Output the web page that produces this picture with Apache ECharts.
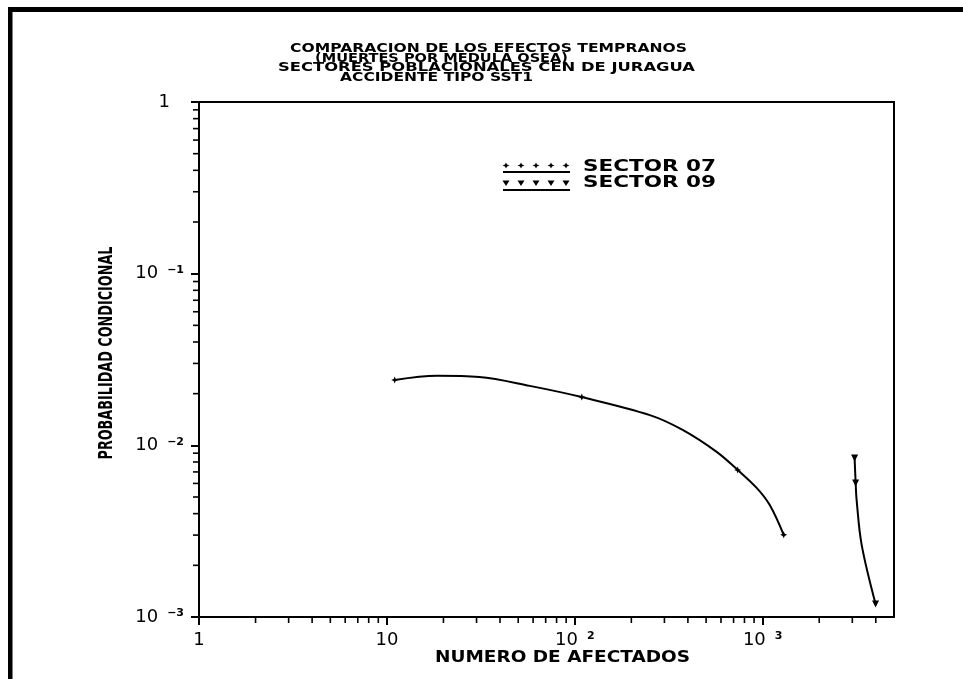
<!DOCTYPE html>
<html><head><meta charset="utf-8">
<script src="https://cdn.jsdelivr.net/npm/echarts@6/dist/echarts.min.js"></script>
<style>html,body{margin:0;padding:0;background:#fff}#c{width:963px;height:679px}</style>
</head><body><div id="c"></div>
<script>
// ---- data ----
const titleLines = ['COMPARACION DE LOS EFECTOS TEMPRANOS', '(MUERTES POR MEDULA OSEA)', 'SECTORES POBLACIONALES CEN DE JURAGUA', 'ACCIDENTE TIPO SST1'];
const seriesNames = ['SECTOR 07', 'SECTOR 09'];
const xAxisName = 'NUMERO DE AFECTADOS';
const yAxisName = 'PROBABILIDAD CONDICIONAL';
const sector07X = [11, 18.5, 31, 57.6, 109, 251, 375, 569, 736, 929, 1089, 1294];
const sector07Y = [0.0240, 0.0254, 0.0250, 0.0222, 0.0191, 0.0150, 0.0123, 0.00916, 0.00719, 0.00565, 0.00450, 0.00301];
const sector07Marked = [1, 0, 0, 0, 1, 0, 0, 0, 1, 0, 0, 1];
const sector09X = [3085, 3125, 3162, 3364, 3990];
const sector09Y = [0.00845, 0.00604, 0.00481, 0.00263, 0.00119];
const sector09Marked = [1, 1, 0, 0, 1];
const xMin = 1, xMax = 5000, yMin = 0.001, yMax = 1;
const minorMultipliers = [2, 3, 4, 5, 6, 7, 8, 9];

// ---- helpers ----
const FAM = '"DejaVu Sans", sans-serif';
const mctx = document.createElement('canvas').getContext('2d');
function fitText(text, left, right, cy, size, weight, extra) {
  const font = weight + ' ' + size + 'px ' + FAM;
  mctx.font = font;
  const w = mctx.measureText(text).width;
  return Object.assign({
    type: 'text', x: left, y: cy, scaleX: (right - left) / w, silent: true,
    style: { text: text, font: font, fill: '#000', textAlign: 'left', textVerticalAlign: 'middle' }
  }, extra || {});
}
function fitCenterRot(text, cx, cy, len, size, weight) {
  const font = weight + ' ' + size + 'px ' + FAM;
  mctx.font = font;
  const w = mctx.measureText(text).width;
  return {
    type: 'text', x: cx, y: cy, rotation: Math.PI / 2, scaleX: len / w, silent: true,
    style: { text: text, font: font, fill: '#000', textAlign: 'center', textVerticalAlign: 'middle' }
  };
}
const starSym = 'path://M0,-10 L3,-3 L10,0 L3,3 L0,10 L-3,3 L-10,0 L-3,-3 Z';
const triSym = 'path://M-10,-8 L10,-8 L0,10 Z';
function buildData(xs, ys, marks, sym) {
  return xs.map((x, i) => ({ value: [x, ys[i]], symbol: marks[i] ? sym : 'none' }));
}
function logLabel(v, isX) {
  const l = Math.log10(v), e = Math.round(l);
  if (Math.abs(l - e) > 1e-6) return '';
  if (e === 0) return isX ? '{n|1}' : '{one|1}';
  if (e === 1) return '{n|10}';
  return '{n|10}{s|' + (e < 0 ? '\u2212' + (-e) : e) + '}';
}
const labelRich = {
  n: { fontSize: 18, fontFamily: FAM, color: '#000' },
  one: { fontSize: 18, fontFamily: FAM, color: '#000', padding: [0, 14, 0, 0] },
  s: { fontSize: 11, fontFamily: FAM, fontWeight: 'bold', color: '#000', verticalAlign: 'top', padding: [0, 0, 0, 9] }
};

const chart = echarts.init(document.getElementById('c'), null, { renderer: 'canvas' });
const axisCommon = {
  type: 'log', logBase: 10,
  axisLine: { show: true, onZero: false, lineStyle: { color: '#000', width: 2 } },
  axisTick: { show: true, inside: false, length: 8, lineStyle: { color: '#000', width: 2 } },
  splitLine: { show: false }, minorTick: { show: false }
};
const lineSeries = (name, data) => ({
  name: name, type: 'line', smooth: 0.35, showAllSymbol: true, symbolSize: 7, color: '#000',
  lineStyle: { color: '#000', width: 2 }, itemStyle: { color: '#000' }, data: data
});
const option = {
  animation: false,
  backgroundColor: '#fff',
  grid: { left: 199, right: 69, top: 102, bottom: 62, show: true, borderColor: '#000', borderWidth: 2, backgroundColor: 'transparent' },
  xAxis: Object.assign({}, axisCommon, {
    min: xMin, max: xMax,
    axisLabel: { margin: 14, color: '#000', formatter: v => logLabel(v, true), rich: labelRich, showMaxLabel: false }
  }),
  yAxis: Object.assign({}, axisCommon, {
    min: yMin, max: yMax,
    axisLabel: { margin: 15, color: '#000', formatter: v => logLabel(v, false), rich: labelRich }
  }),
  series: [
    lineSeries(seriesNames[0], buildData(sector07X, sector07Y, sector07Marked, starSym)),
    lineSeries(seriesNames[1], buildData(sector09X, sector09Y, sector09Marked, triSym))
  ]
};
chart.setOption(option);

// ---- decorations: minor ticks, texts, legend, frame ----
const g = [];
function px(v) { return chart.convertToPixel({ gridIndex: 0 }, v); }
for (let d = Math.floor(Math.log10(xMin)); d < Math.ceil(Math.log10(xMax)); d++) {
  minorMultipliers.forEach(m => {
    const v = m * Math.pow(10, d);
    if (v >= xMax) return;
    const p = px([v, yMin]);
    g.push({ type: 'line', silent: true, shape: { x1: p[0], y1: p[1], x2: p[0], y2: p[1] + 6 }, style: { stroke: '#000', lineWidth: 1.6 } });
  });
}
for (let d = Math.round(Math.log10(yMin)); d < Math.round(Math.log10(yMax)); d++) {
  minorMultipliers.forEach(m => {
    const v = m * Math.pow(10, d);
    const p = px([xMin, v]);
    g.push({ type: 'line', silent: true, shape: { x1: p[0] - 6, y1: p[1], x2: p[0], y2: p[1] }, style: { stroke: '#000', lineWidth: 1.6 } });
  });
}
// title
g.push(fitText(titleLines[0], 290, 687, 48.3, 12.5, 'bold'));
g.push(fitText(titleLines[1], 315, 568, 58.5, 12.5, 'bold'));
g.push(fitText(titleLines[2], 278, 695, 68, 12.5, 'bold'));
g.push(fitText(titleLines[3], 340, 533, 77.5, 12.5, 'bold'));
// axis names
g.push(fitText(xAxisName, 435, 690, 658, 16, 'bold'));
g.push(fitCenterRot(yAxisName, 107, 353, 213, 20, 'bold'));
// legend
const legendRows = [
  { name: seriesNames[0], sym: 'star', lineY: 172, symY: 165.5, textY: 167 },
  { name: seriesNames[1], sym: 'tri', lineY: 190, symY: 183, textY: 183.5 }
];
legendRows.forEach(r => {
  g.push({ type: 'line', silent: true, shape: { x1: 503, y1: r.lineY, x2: 570, y2: r.lineY }, style: { stroke: '#000', lineWidth: 2 } });
  [506, 521, 536, 551, 566].forEach(x => {
    if (r.sym === 'star') {
      g.push({ type: 'polygon', silent: true, shape: { points: [[x, r.symY - 3], [x + 1, r.symY - 1], [x + 3.5, r.symY], [x + 1, r.symY + 1], [x, r.symY + 3], [x - 1, r.symY + 1], [x - 3.5, r.symY], [x - 1, r.symY - 1]] }, style: { fill: '#000' } });
    } else {
      g.push({ type: 'polygon', silent: true, shape: { points: [[x - 3.5, r.symY - 2.5], [x + 3.5, r.symY - 2.5], [x, r.symY + 3]] }, style: { fill: '#000' } });
    }
  });
  g.push(fitText(r.name, 583, 716, r.textY, 15, 'bold'));
});
// outer frame (top and left edges)
g.push({ type: 'rect', silent: true, shape: { x: 8, y: 7, width: 955, height: 5 }, style: { fill: '#000' } });
g.push({ type: 'rect', silent: true, shape: { x: 8, y: 7, width: 4.5, height: 672 }, style: { fill: '#000' } });
chart.setOption({ graphic: g });
</script></body></html>
